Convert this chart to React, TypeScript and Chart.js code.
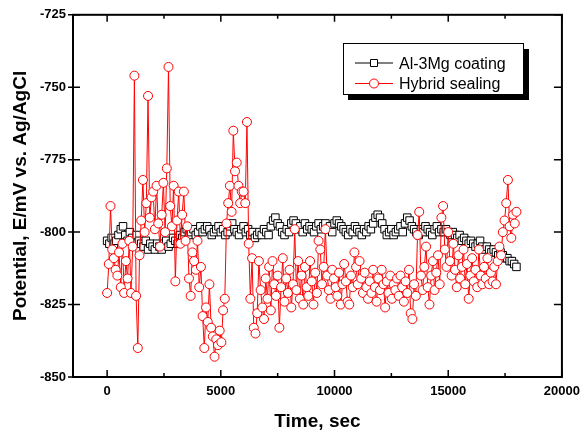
import React, { useEffect, useRef } from "react";
import { Chart, registerables } from "chart.js";

Chart.register(...registerables);

const FONT = "'Liberation Sans', Arial, Helvetica, sans-serif";

// Axis definitions
const xTicks = [0, 5000, 10000, 15000, 20000];
const xMinorTicks = [2500, 7500, 12500, 17500];
const yTicks = [-850, -825, -800, -775, -750, -725];
const X_MIN = -1500;
const X_MAX = 20000;
const Y_MIN = -850;
const Y_MAX = -725;

const xTitle = "Time, sec";
const yTitle = "Potential, E/mV vs. Ag/AgCl";
const seriesLabels = ["Al-3Mg coating", "Hybrid sealing"];

// Al-3Mg coating: sampled every 100 s from 0 to 18000 s
const coatingStep = 100;
const coatingValues = [
  -803, -804, -802, -804, -803, -801, -799, -798, -801, -803, -800, -802, -804, -801, -803,
  -804, -805, -803, -806, -804, -805, -806, -804, -805, -806, -804, -803, -805, -804, -802,
  -803, -804, -801, -802, -800, -799, -801, -800, -799, -801, -800, -798, -800, -799, -798,
  -799, -801, -800, -799, -798, -800, -799, -801, -800, -798, -797, -799, -800, -801, -799,
  -798, -800, -799, -801, -800, -802, -801, -800, -801, -799, -800, -801, -798, -796, -795,
  -797, -798, -800, -801, -799, -800, -797, -796, -797, -799, -798, -800, -797, -799, -798,
  -799, -800, -798, -797, -799, -798, -797, -799, -798, -800, -797, -796, -797, -798, -799,
  -800, -801, -799, -800, -798, -799, -800, -801, -799, -800, -798, -799, -797, -795, -794,
  -795, -797, -799, -801, -800, -799, -801, -800, -799, -798, -800, -797, -795, -796, -798,
  -799, -800, -801, -799, -800, -798, -799, -800, -801, -799, -798, -800, -799, -800, -799,
  -800, -801, -800, -801, -802, -801, -803, -802, -803, -804, -803, -804, -805, -804, -803,
  -805, -806, -805, -806, -807, -806, -807, -808, -807, -808, -809, -809, -810, -810, -811,
  -812,
];

// Hybrid sealing: sampled every 75 s from 0 to 18000 s
const sealingStep = 75;
const sealingValues = [
  -821, -811, -791, -806, -809, -813, -815, -807, -819, -804,
  -821, -810, -816, -803, -821, -805, -746, -822, -840, -808,
  -796, -782, -800, -790, -753, -795, -788, -786, -799, -784,
  -797, -805, -794, -783, -800, -778, -743, -791, -798, -784,
  -817, -796, -786, -804, -794, -786, -803, -798, -816, -822,
  -807, -810, -813, -803, -819, -812, -829, -840, -826, -831,
  -818, -833, -836, -843, -837, -839, -834, -838, -827, -823,
  -797, -790, -784, -793, -765, -779, -776, -784, -790, -786,
  -786, -790, -762, -804, -823, -809, -833, -835, -828, -810,
  -820, -826, -830, -816, -823, -812, -827, -810, -818, -822,
  -815, -833, -819, -809, -824, -816, -821, -813, -826, -818,
  -799, -820, -810, -823, -815, -825, -812, -819, -822, -810,
  -817, -825, -814, -821, -803, -806, -818, -812, -799, -815,
  -820, -823, -813, -816, -819, -822, -814, -825, -818, -811,
  -817, -824, -825, -815, -819, -807, -812, -818, -810, -816,
  -821, -814, -819, -823, -817, -821, -813, -819, -824, -816,
  -820, -813, -818, -826, -817, -821, -815, -823, -818, -820,
  -816, -822, -815, -819, -824, -817, -821, -813, -828, -830,
  -818, -822, -801, -793, -815, -820, -812, -805, -819, -825,
  -815, -810, -820, -814, -808, -818, -795, -791, -806, -812,
  -800, -810, -815, -804, -813, -819, -808, -816, -812, -806,
  -818, -811, -823, -815, -809, -817, -813, -819, -806, -815,
  -818, -812, -816, -809, -818, -814, -817, -812, -818, -810,
  -805, -808, -800, -796, -790, -782, -798, -802, -794, -797,
  -793,
];

const coatingPoints = coatingValues.map((v, i) => ({ x: i * coatingStep, y: v }));
const sealingPoints = sealingValues.map((v, i) => ({ x: i * sealingStep, y: v }));

const framePlugin = {
  id: "frameAndText",
  afterDatasetsDraw(chart: any) {
    const { ctx, chartArea: a, scales } = chart;
    const xs = scales.x;
    const ys = scales.y;
    ctx.save();
    ctx.strokeStyle = "#000";
    ctx.lineWidth = 2;
    ctx.strokeRect(a.left, a.top, a.right - a.left, a.bottom - a.top);

    ctx.lineWidth = 1.5;
    ctx.beginPath();
    for (const v of xTicks) {
      const px = xs.getPixelForValue(v);
      ctx.moveTo(px, a.bottom);
      ctx.lineTo(px, a.bottom - 7);
      ctx.moveTo(px, a.top);
      ctx.lineTo(px, a.top + 7);
    }
    for (const v of xMinorTicks) {
      const px = xs.getPixelForValue(v);
      ctx.moveTo(px, a.bottom);
      ctx.lineTo(px, a.bottom - 4);
      ctx.moveTo(px, a.top);
      ctx.lineTo(px, a.top + 4);
    }
    for (const v of yTicks) {
      const py = ys.getPixelForValue(v);
      ctx.moveTo(a.left - 5, py);
      ctx.lineTo(a.left + 7, py);
      ctx.moveTo(a.right, py);
      ctx.lineTo(a.right - 8, py);
    }
    ctx.stroke();

    // Axis titles
    ctx.fillStyle = "#000";
    ctx.font = `bold 19px ${FONT}`;
    ctx.textAlign = "center";
    ctx.textBaseline = "alphabetic";
    ctx.fillText(xTitle, (a.left + a.right) / 2, 426.5);
    ctx.save();
    ctx.translate(26, (a.top + a.bottom) / 2);
    ctx.rotate(-Math.PI / 2);
    ctx.fillText(yTitle, 0, 0);
    ctx.restore();

    // Legend with drop shadow
    ctx.fillStyle = "#000";
    ctx.fillRect(348, 49, 181, 51);
    ctx.fillStyle = "#fff";
    ctx.fillRect(343, 43, 180, 51);
    ctx.lineWidth = 1;
    ctx.strokeStyle = "#000";
    ctx.strokeRect(343.5, 43.5, 180, 51);

    const rows = [
      { y: 63, color: "#000", shape: "rect", label: seriesLabels[0], base: 68.5 },
      { y: 83.5, color: "#ff0000", shape: "circle", label: seriesLabels[1], base: 89 },
    ];
    for (const r of rows) {
      ctx.strokeStyle = r.color;
      ctx.lineWidth = 1;
      ctx.beginPath();
      ctx.moveTo(355, r.y);
      ctx.lineTo(393, r.y);
      ctx.stroke();
      ctx.fillStyle = "#fff";
      ctx.beginPath();
      if (r.shape === "rect") {
        ctx.rect(370.5, r.y - 3.5, 7, 7);
      } else {
        ctx.arc(374, r.y, 4.5, 0, Math.PI * 2);
      }
      ctx.fill();
      ctx.stroke();
      ctx.fillStyle = "#000";
      ctx.font = `16px ${FONT}`;
      ctx.textAlign = "left";
      ctx.textBaseline = "alphabetic";
      ctx.fillText(r.label, 399, r.base);
    }
    ctx.restore();
  },
};

export default function App() {
  const ref = useRef<HTMLCanvasElement>(null);
  useEffect(() => {
    const chart = new Chart(ref.current as HTMLCanvasElement, {
      type: "line",
      data: {
        datasets: [
          {
            label: seriesLabels[0],
            data: coatingPoints,
            borderColor: "#000",
            borderWidth: 1,
            pointStyle: "rect",
            pointRadius: 5.3,
            pointBackgroundColor: "#fff",
            pointBorderColor: "#000",
            pointBorderWidth: 1,
            tension: 0,
            order: 2,
          },
          {
            label: seriesLabels[1],
            data: sealingPoints,
            borderColor: "#ff0000",
            borderWidth: 1,
            pointStyle: "circle",
            pointRadius: 4.5,
            pointBackgroundColor: "#fff",
            pointBorderColor: "#ff0000",
            pointBorderWidth: 1,
            tension: 0,
            order: 1,
          },
        ],
      },
      options: {
        animation: false,
        responsive: false,
        devicePixelRatio: 1,
        layout: { padding: { top: 13, right: 19, left: 0, bottom: 0 } },
        plugins: { legend: { display: false }, tooltip: { enabled: false } },
        scales: {
          x: {
            type: "linear",
            min: X_MIN,
            max: X_MAX,
            afterBuildTicks: (s: any) => {
              s.ticks = xTicks.map((v) => ({ value: v }));
            },
            afterFit: (s: any) => {
              s.height = 56;
            },
            ticks: {
              font: { family: FONT, size: 13, weight: "bold" },
              color: "#000",
              padding: 7,
              maxRotation: 0,
              autoSkip: false,
              callback: (v: any) => String(v),
            },
            grid: { display: false, drawTicks: false },
            border: { display: false },
          },
          y: {
            type: "linear",
            min: Y_MIN,
            max: Y_MAX,
            afterBuildTicks: (s: any) => {
              s.ticks = yTicks.map((v) => ({ value: v }));
            },
            afterFit: (s: any) => {
              s.width = 73;
            },
            ticks: {
              font: { family: FONT, size: 13, weight: "bold" },
              color: "#000",
              padding: 7,
              autoSkip: false,
              callback: (v: any) => String(v),
            },
            grid: { display: false, drawTicks: false },
            border: { display: false },
          },
        },
      } as any,
      plugins: [framePlugin],
    });
    return () => chart.destroy();
  }, []);
  return (
    <div style={{ position: "absolute", left: 0, top: 0, width: 587, height: 433, background: "#fff" }}>
      <canvas ref={ref} width={587} height={433} style={{ width: 587, height: 433, display: "block" }} />
    </div>
  );
}
